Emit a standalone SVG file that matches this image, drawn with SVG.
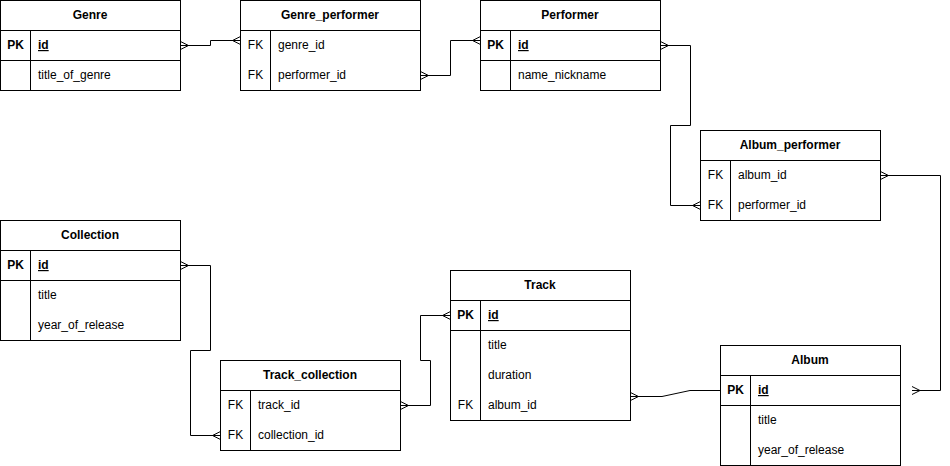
<svg xmlns="http://www.w3.org/2000/svg" width="950" height="466" viewBox="0 0 950 466">
<style>
.box{fill:#fff;stroke:#000;stroke-width:1}
.ln{stroke:#000;stroke-width:1;fill:none}
text{font-family:"Liberation Sans",Arial,sans-serif;font-size:12px;fill:#000}
.h{font-weight:bold;text-anchor:middle}
.k{text-anchor:middle}
.pk{font-weight:bold;text-anchor:middle}
.id{font-weight:bold;text-decoration:underline}
.e{stroke:#000;stroke-width:1;fill:none}
</style>
<defs>
<marker id="many" markerUnits="userSpaceOnUse" orient="auto-start-reverse" refX="0" refY="0" markerWidth="20" markerHeight="20" viewBox="-10 -10 20 20" overflow="visible">
<path d="M-8,0 L0,-4 M-8,0 L0,4" fill="none" stroke="#000" stroke-width="1"/>
</marker>
</defs>

<g id="connectors">
<path class="e" d="M180.5,45.5 H210.5 V40.5 H240.5" marker-start="url(#many)" marker-end="url(#many)"/>
<path class="e" d="M420.5,75.5 H450.5 V40.5 H480.5" marker-start="url(#many)" marker-end="url(#many)"/>
<path class="e" d="M660.5,45.5 H690.5 V125.5 H670.5 V205.5 H700.5" marker-start="url(#many)" marker-end="url(#many)"/>
<path class="e" d="M880.5,175.5 H940.5 V390.5 H912" marker-start="url(#many)" marker-end="url(#many)"/>
<path class="e" d="M630.5,396.5 H662 L690,390.5 H720.5" marker-start="url(#many)"/>
<path class="e" d="M450.5,315.5 H420.5 V360.5 H430.5 V405.5 H400.5" marker-start="url(#many)" marker-end="url(#many)"/>
<path class="e" d="M180.5,265.5 H210.5 V350.5 H190.5 V435.5 H220.5" marker-start="url(#many)" marker-end="url(#many)"/>
</g>

<g id="genre">
<rect class="box" x="0.5" y="0.5" width="180" height="90"/>
<path class="ln" d="M0.5,30.5 H180.5 M0.5,60.5 H180.5 M30.5,30.5 V90.5"/>
<text class="h" x="90" y="19">Genre</text>
<text class="pk" x="15.5" y="49">PK</text>
<text class="id" x="38" y="49">id</text>
<text x="38" y="79">title_of_genre</text>
</g>

<g id="genre_performer">
<rect class="box" x="240.5" y="0.5" width="180" height="90"/>
<path class="ln" d="M240.5,30.5 H420.5 M270.5,30.5 V90.5"/>
<text class="h" x="330" y="19">Genre_performer</text>
<text class="k" x="255.5" y="49">FK</text>
<text x="278" y="49">genre_id</text>
<text class="k" x="255.5" y="79">FK</text>
<text x="278" y="79">performer_id</text>
</g>

<g id="performer">
<rect class="box" x="480.5" y="0.5" width="180" height="90"/>
<path class="ln" d="M480.5,30.5 H660.5 M480.5,60.5 H660.5 M510.5,30.5 V90.5"/>
<text class="h" x="570" y="19">Performer</text>
<text class="pk" x="495.5" y="49">PK</text>
<text class="id" x="518" y="49">id</text>
<text x="518" y="79">name_nickname</text>
</g>

<g id="album_performer">
<rect class="box" x="700.5" y="130.5" width="180" height="90"/>
<path class="ln" d="M700.5,160.5 H880.5 M730.5,160.5 V220.5"/>
<text class="h" x="790" y="149">Album_performer</text>
<text class="k" x="715.5" y="179">FK</text>
<text x="738" y="179">album_id</text>
<text class="k" x="715.5" y="209">FK</text>
<text x="738" y="209">performer_id</text>
</g>

<g id="collection">
<rect class="box" x="0.5" y="220.5" width="180" height="120"/>
<path class="ln" d="M0.5,250.5 H180.5 M0.5,280.5 H180.5 M30.5,250.5 V340.5"/>
<text class="h" x="90" y="239">Collection</text>
<text class="pk" x="15.5" y="269">PK</text>
<text class="id" x="38" y="269">id</text>
<text x="38" y="299">title</text>
<text x="38" y="329">year_of_release</text>
</g>

<g id="track_collection">
<rect class="box" x="220.5" y="360.5" width="180" height="90"/>
<path class="ln" d="M220.5,390.5 H400.5 M250.5,390.5 V450.5"/>
<text class="h" x="310" y="379">Track_collection</text>
<text class="k" x="235.5" y="409">FK</text>
<text x="258" y="409">track_id</text>
<text class="k" x="235.5" y="439">FK</text>
<text x="258" y="439">collection_id</text>
</g>

<g id="track">
<rect class="box" x="450.5" y="270.5" width="180" height="150"/>
<path class="ln" d="M450.5,300.5 H630.5 M450.5,330.5 H630.5 M480.5,300.5 V420.5"/>
<text class="h" x="540" y="289">Track</text>
<text class="pk" x="465.5" y="319">PK</text>
<text class="id" x="488" y="319">id</text>
<text x="488" y="349">title</text>
<text x="488" y="379">duration</text>
<text class="k" x="465.5" y="409">FK</text>
<text x="488" y="409">album_id</text>
</g>

<g id="album">
<rect class="box" x="720.5" y="345.5" width="180" height="120"/>
<path class="ln" d="M720.5,375.5 H900.5 M720.5,405.5 H900.5 M750.5,375.5 V465.5"/>
<text class="h" x="810" y="364">Album</text>
<text class="pk" x="735.5" y="394">PK</text>
<text class="id" x="758" y="394">id</text>
<text x="758" y="424">title</text>
<text x="758" y="454">year_of_release</text>
</g>
</svg>
